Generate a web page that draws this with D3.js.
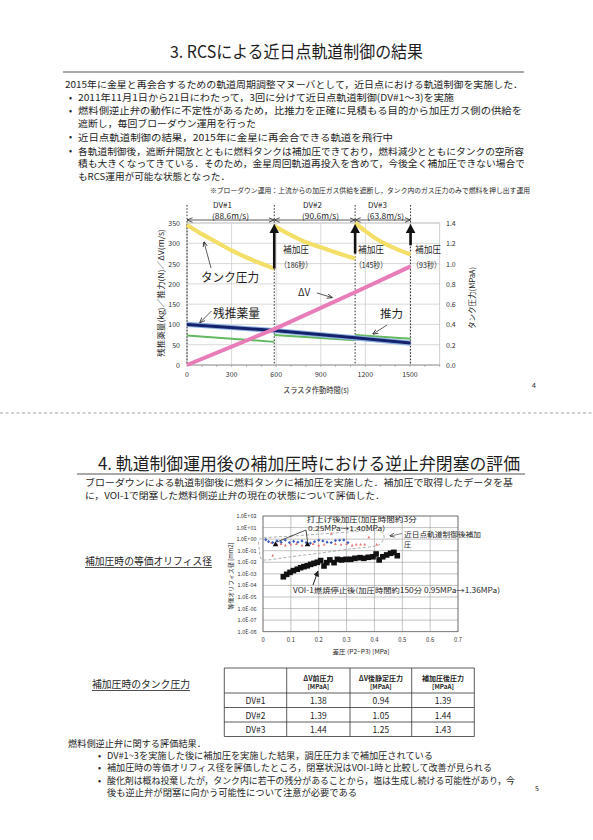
<!DOCTYPE html>
<html><head><meta charset="utf-8">
<script src="https://cdn.jsdelivr.net/npm/d3@7"></script>
<style>
body{margin:0;background:#fff}
svg{display:block}
text{font-family:"Noto Sans CJK JP","Noto Sans",sans-serif;fill:#1e1e1e}
</style>
</head><body><svg id="c" width="593" height="840"></svg>
<script>
// ---------------- DATA ----------------
// Section 3 text
const sec3Title = "3.  RCSによる近日点軌道制御の結果";
const sec3Lines = [
  "2015年に金星と再会合するための軌道周期調整マヌーバとして，近日点における軌道制御を実施した．",
  "2011年11月1日から21日にわたって，3回に分けて近日点軌道制御(DV#1〜3)を実施",
  "燃料側逆止弁の動作に不定性があるため，比推力を正確に見積もる目的から加圧ガス側の供給を",
  "遮断し，毎回ブローダウン運用を行った",
  "近日点軌道制御の結果，2015年に金星に再会合できる軌道を飛行中",
  "各軌道制御後，遮断弁開放とともに燃料タンクは補加圧できており，燃料減少とともにタンクの空所容",
  "積も大きくなってきている．そのため，金星周回軌道再投入を含めて，今後全く補加圧できない場合で",
  "もRCS運用が可能な状態となった．"
];
const sec3Note = "※ブローダウン運用：上流からの加圧ガス供給を遮断し，タンク内のガス圧力のみで燃料を押し出す運用";

// Chart 1 (thruster operation)
const dvNames = ["DV#1", "DV#2", "DV#3"];
const dvDeltaVLabels = ["(88.6m/s)", "(90.6m/s)", "(63.8m/s)"];
const burnBounds = [0, 587, 1131, 1504];           // s
const repressTimes = ["（186秒）", "（145秒）", "（93秒）"];
const tankPressure = [                              // MPaA
  [[0,1.38],[100,1.29],[200,1.21],[300,1.13],[400,1.06],[500,1.00],[587,0.95]],
  [[587,1.37],[700,1.28],[800,1.21],[900,1.16],[1000,1.11],[1131,1.05]],
  [[1131,1.40],[1200,1.32],[1300,1.22],[1400,1.15],[1504,1.09]]
];
const arrowFrom = [0.95, 1.10, 1.18];               // MPaA where repress arrows start
const deltaV = [[0,0],[587,88.6],[1131,179.2],[1504,243]];        // m/s
const propellant = [[0,100],[587,85],[1131,67],[1504,54]];        // kg
const thrust = [                                                   // N
  [[0,73],[587,57]],
  [[587,74],[1131,61]],
  [[1131,74],[1504,65]]
];
const xTicks1 = [0, 300, 600, 900, 1200, 1500];
const yTicksL = [0, 50, 100, 150, 200, 250, 300, 350];
const yTicksR = [0, 0.2, 0.4, 0.6, 0.8, 1.0, 1.2, 1.4];

// Section 4 text
const sec4Title = "4.  軌道制御運用後の補加圧時における逆止弁閉塞の評価";
const sec4Lines = [
  "ブローダウンによる軌道制御後に燃料タンクに補加圧を実施した．補加圧で取得したデータを基",
  "に，VOI-1で閉塞した燃料側逆止弁の現在の状態について評価した．"
];

// Chart 2 (equivalent orifice)
const voiDp = [0.073,0.085,0.097,0.109,0.123,0.135,0.147,0.159,0.171,0.183,0.195,0.207,0.219,0.229,0.240,0.255,0.267,0.282,0.298,0.315,0.330,0.348,0.362,0.378,0.395,0.406,0.417,0.430,0.444,0.458,0.470,0.482];
const voiArea = [5.6e-4,9.1e-4,1.35e-3,1.9e-3,2.5e-3,3.4e-3,4.2e-3,5.0e-3,6.6e-3,8.1e-3,1.0e-2,1.4e-2,4.8e-3,9.3e-3,1.6e-2,9.3e-3,1.8e-2,1.6e-2,1.8e-2,1.8e-2,2.2e-2,2.5e-2,2.2e-2,2.7e-2,3.0e-2,5.2e-2,1.6e-2,3.0e-2,4.3e-2,6.0e-2,7.2e-2,3.7e-2];
const blueDp = [0.01,0.02,0.035,0.05,0.065,0.08,0.095,0.11,0.125,0.14,0.155,0.17,0.185,0.20,0.215,0.23,0.245,0.26,0.275,0.29,0.305];
const blueArea = [0.9,0.6,0.5,0.7,0.55,0.8,0.5,0.65,0.55,0.7,0.5,0.45,0.6,0.8,0.7,0.55,0.5,0.75,0.8,0.85,0.5];
const redDp = [0.03,0.035,0.05,0.065,0.08,0.10,0.12,0.14,0.16,0.18,0.20,0.22,0.245,0.26,0.28,0.30,0.32,0.335,0.35,0.365,0.38,0.408];
const redArea = [0.5,0.04,0.35,0.4,0.3,0.35,0.4,0.3,0.35,0.4,0.3,0.35,3.0,0.4,0.35,0.4,0.3,0.35,0.35,0.35,1.5,0.35];
const launchDp = [0.045, 0.16];
const launchArea = [0.4, 0.4];
const envelope = [[-0.008,1.1],[0.1,1.8],[0.2,2.7],[0.3,4.0],[0.41,5.8],[0.435,1.6],[0.41,0.28],[0.3,0.13],[0.2,0.06],[0.1,0.03],[0.0,0.016],[-0.013,0.12]];
const logTickLabels = ["1.0E-08","1.0E-07","1.0E-06","1.0E-05","1.0E-04","1.0E-03","1.0E-02","1.0E-01","1.0E+00","1.0E+01","1.0E+02"];
const logTickValues = [1e-8,1e-7,1e-6,1e-5,1e-4,1e-3,1e-2,1e-1,1,10,100];
const xTicks2 = [0,0.1,0.2,0.3,0.4,0.5,0.6,0.7];

// Table
const tableHead1 = ["ΔV前圧力", "ΔV後静定圧力", "補加圧後圧力"];
const tableHead2 = ["[MPaA]", "[MPaA]", "[MPaA]"];
const tableRows = ["DV#1", "DV#2", "DV#3"];
const preDV = ["1.38", "1.39", "1.44"];
const postDV = ["0.94", "1.05", "1.25"];
const afterRep = ["1.39", "1.44", "1.43"];

const evalTitle = "燃料側逆止弁に関する評価結果．";
const evalLines = [
  "DV#1~3を実施した後に補加圧を実施した結果，調圧圧力まで補加圧されている",
  "補加圧時の等価オリフィス径を評価したところ，閉塞状況はVOI-1時と比較して改善が見られる",
  "酸化剤は概ね投棄したが，タンク内に若干の残分があることから，塩は生成し続ける可能性があり，今",
  "後も逆止弁が閉塞に向かう可能性について注意が必要である"
];

// ---------------- DRAW ----------------
const S = d3.select("#c");
S.append("rect").attr("width",593).attr("height",840).attr("fill","#fff");
const defs = S.append("defs");
defs.append("marker").attr("id","ah").attr("viewBox","0 0 10 10").attr("refX",9).attr("refY",5)
  .attr("markerWidth",7).attr("markerHeight",7).attr("orient","auto-start-reverse")
  .append("path").attr("d","M0,1 L10,5 L0,9").attr("fill","none").attr("stroke","#222").attr("stroke-width",1.4);
defs.append("marker").attr("id","ahf").attr("viewBox","0 0 10 10").attr("refX",9).attr("refY",5)
  .attr("markerWidth",6).attr("markerHeight",6).attr("orient","auto")
  .append("path").attr("d","M0,0 L10,5 L0,10 Z").attr("fill","#222");

function T(g, x, y, s, o = {}) {
  const t = g.append("text").attr("x", x).attr("y", y).text(s)
    .attr("font-size", o.size || 10).attr("dominant-baseline", "central")
    .attr("text-anchor", o.anchor || "start");
  if (o.len) t.attr("textLength", o.len).attr("lengthAdjust", "spacingAndGlyphs");
  if (o.weight) t.attr("font-weight", o.weight);
  if (o.fill) t.style("fill", o.fill);
  if (o.rotate) t.attr("transform", `rotate(${o.rotate},${x},${y})`);
  return t;
}
function L(g, x1, y1, x2, y2, st = "#222", w = 1, dash = null) {
  const l = g.append("line").attr("x1",x1).attr("y1",y1).attr("x2",x2).attr("y2",y2)
    .attr("stroke", st).attr("stroke-width", w);
  if (dash) l.attr("stroke-dasharray", dash);
  return l;
}

// ---- Section 3 text ----
const g3 = S.append("g");
T(g3, 170, 50, sec3Title, {size: 17, len: 253});
L(g3, 63, 72, 524, 72, "#555", 1);
const s3Layout = [
  {x:65, y:84, len:458, b:false},
  {x:78, y:97, len:376, b:true},
  {x:78, y:110.25, len:444, b:true},
  {x:78, y:122.75, len:178, b:false},
  {x:78, y:136.5, len:315, b:true},
  {x:78, y:150.5, len:446, b:true},
  {x:78, y:163, len:447, b:false},
  {x:78, y:175.5, len:152, b:false}
];
sec3Lines.forEach((s, i) => {
  const p = s3Layout[i];
  T(g3, p.x, p.y, s, {size: 9.6, len: p.len});
  if (p.b) T(g3, 69, p.y, "•", {size: 9});
});
T(g3, 210, 190, sec3Note, {size: 6.5, len: 320});

// ---- Chart 1 ----
const g1 = S.append("g");
const x1 = d3.scaleLinear().domain([0, 1700]).range([187, 439.7]);
const yL = d3.scaleLinear().domain([0, 350]).range([365, 223]);
const yR = d3.scaleLinear().domain([0, 1.4]).range([365, 223]);

// grid
yTicksL.forEach(v => L(g1, x1(0), yL(v), x1(1700), yL(v), "#cfcfcf", 0.8));
xTicks1.forEach(v => L(g1, x1(v), yL(0), x1(v), yL(350), "#cfcfcf", 0.8));
g1.append("rect").attr("x", x1(0)).attr("y", yL(350)).attr("width", x1(1700)-x1(0))
  .attr("height", yL(0)-yL(350)).attr("fill","none").attr("stroke","#c4c4c4").attr("stroke-width",0.8);
// x axis
L(g1, x1(0), yL(0), x1(1700), yL(0), "#999", 0.8);
d3.range(0, 1701, 100).forEach(v => L(g1, x1(v), yL(0), x1(v), yL(0)+2, "#999", 0.7));
xTicks1.forEach(v => T(g1, x1(v), 374, String(v), {size: 7, anchor: "middle", fill: "#333"}));
yTicksL.forEach(v => T(g1, 180, yL(v), String(v), {size: 7, anchor: "end", fill: "#333"}));
yTicksR.forEach(v => T(g1, 446, yR(v), v.toFixed(1), {size: 7, fill: "#333"}));
T(g1, 316, 389, "スラスタ作動時間(s)", {size: 7.5, anchor: "middle", len: 66});
T(g1, 160, 293, "残推薬量(kg)／推力(N)／ΔV(m/s)", {size: 7.5, anchor: "middle", len: 128, rotate: -90});
T(g1, 471, 298, "タンク圧力(MPaA)", {size: 7.5, anchor: "middle", len: 62, rotate: -90});

// burn boundary dotted lines
burnBounds.forEach(b => L(g1, x1(b), 205, x1(b), yL(0), "#333", 1, "1.6,1.6"));
// dimension arrows + labels
const dvLabelX = [213, 303, 368];
dvNames.forEach((n, i) => {
  const a = x1(burnBounds[i]) + 0.5, b = x1(burnBounds[i+1]) - 0.5;
  g1.append("line").attr("x1", a).attr("y1", 220).attr("x2", b).attr("y2", 220)
    .attr("stroke","#333").attr("stroke-width",0.8)
    .attr("marker-start","url(#ah)").attr("marker-end","url(#ah)");
  T(g1, dvLabelX[i], 204, n, {size: 8});
  T(g1, dvLabelX[i] - 1, 215.5, dvDeltaVLabels[i], {size: 8, len: 37});
});

// series lines
const lineR = d3.line().x(d => x1(d[0])).y(d => yR(d[1])).curve(d3.curveMonotoneX);
const lineL = d3.line().x(d => x1(d[0])).y(d => yL(d[1]));
tankPressure.forEach(seg => g1.append("path").attr("d", lineR(seg)).attr("fill","none")
  .attr("stroke","#f3de68").attr("stroke-width",4.2).attr("stroke-linecap","butt"));
thrust.forEach(seg => g1.append("path").attr("d", lineL(seg)).attr("fill","none")
  .attr("stroke","#63b860").attr("stroke-width",2));
g1.append("path").attr("d", lineL(propellant)).attr("fill","none").attr("stroke","#8eb1e2").attr("stroke-width",5.2);
g1.append("path").attr("d", lineL(propellant)).attr("fill","none").attr("stroke","#14226b").attr("stroke-width",3);
g1.append("path").attr("d", lineL(deltaV)).attr("fill","none").attr("stroke","#e77cb8").attr("stroke-width",4);

// repressurization arrows
const repLabelX = [283, 358, 415];
arrowFrom.forEach((p, i) => {
  const x = x1(burnBounds[i+1]);
  L(g1, x, yR(p), x, yR(1.39) + 7, "#111", 2.6);
  g1.append("path").attr("d", `M${x-4.8},${yR(1.39)+9} L${x},${yR(1.39)} L${x+4.8},${yR(1.39)+9} Z`).attr("fill","#111");
  T(g1, repLabelX[i], 249, "補加圧", {size: 9, len: 26});
  T(g1, repLabelX[i] - 3, 264, repressTimes[i], {size: 8, len: i === 2 ? 29 : 32});
});

// annotations
T(g1, 201, 276, "タンク圧力", {size: 12, len: 58});
g1.append("line").attr("x1",211).attr("y1",268).attr("x2",204).attr("y2",242)
  .attr("stroke","#333").attr("stroke-width",0.8).attr("marker-end","url(#ah)");
T(g1, 213, 312, "残推薬量", {size: 12, len: 47});
g1.append("line").attr("x1",211.5).attr("y1",311).attr("x2",200).attr("y2",322.5)
  .attr("stroke","#333").attr("stroke-width",0.8).attr("marker-end","url(#ah)");
T(g1, 298, 291, "ΔV", {size: 10});
g1.append("line").attr("x1",317).attr("y1",293).attr("x2",332).attr("y2",297.5)
  .attr("stroke","#333").attr("stroke-width",0.8).attr("marker-end","url(#ah)");
T(g1, 380, 313, "推力", {size: 11.5, len: 23});
g1.append("line").attr("x1",387).attr("y1",325).attr("x2",373).attr("y2",334)
  .attr("stroke","#333").attr("stroke-width",0.8).attr("marker-end","url(#ah)");
T(g1, 532, 385, "4", {size: 7});

// separator
L(S, 0, 413, 593, 413, "#8a8a8a", 0.8, "3,2.5");

// ---- Section 4 text ----
const g4 = S.append("g");
T(g4, 98, 462, sec4Title, {size: 17, len: 422});
L(g4, 77, 474, 525, 474, "#555", 1);
T(g4, 85, 482, sec4Lines[0], {size: 8.8, len: 428});
T(g4, 85, 495, sec4Lines[1], {size: 8.8, len: 300});
T(g4, 85, 560, "補加圧時の等価オリフィス径", {size: 10, len: 127});
L(g4, 85, 567.5, 212, 567.5, "#222", 0.8);
T(g4, 92, 683, "補加圧時のタンク圧力", {size: 10, len: 98});
L(g4, 92, 690.5, 190, 690.5, "#222", 0.8);

// ---- Chart 2 ----
const g2 = S.append("g");
const x2 = d3.scaleLinear().domain([0, 0.7]).range([263, 458]);
const y2 = d3.scaleLog().domain([1e-8, 1e2]).range([631.7, 516]);
logTickValues.forEach(v => L(g2, x2(0), y2(v), x2(0.7), y2(v), "#9a9a9a", 0.6));
xTicks2.forEach(v => L(g2, x2(v), y2(1e2), x2(v), y2(1e-8), "#9a9a9a", 0.6));
g2.append("rect").attr("x", x2(0)).attr("y", y2(1e2)).attr("width", x2(0.7)-x2(0))
  .attr("height", y2(1e-8)-y2(1e2)).attr("fill","none").attr("stroke","#666").attr("stroke-width",0.7);
logTickValues.forEach((v, i) => T(g2, 256.5, y2(v), logTickLabels[i], {size: 5.5, anchor: "end", fill: "#333"}));
xTicks2.forEach(v => T(g2, x2(v), 639, v === 0 ? "0" : String(v), {size: 5.8, anchor: "middle", fill: "#333"}));
T(g2, 361, 651, "差圧 (P2−P3) [MPa]", {size: 6, anchor: "middle", len: 57});
T(g2, 230.5, 576, "等価オリフィス径 [mm2]", {size: 6, anchor: "middle", len: 67, rotate: -90});

// envelope
g2.append("path").attr("d", d3.line().x(d => x2(d[0])).y(d => y2(d[1])).curve(d3.curveCardinalClosed.tension(0.3))(envelope))
  .attr("fill","none").attr("stroke","#9a9a9a").attr("stroke-width",0.8).attr("stroke-dasharray","3,2");

// markers
redDp.forEach((p, i) => {
  const x = x2(p), y = y2(redArea[i]);
  g2.append("path").attr("d", `M${x-1.4},${y+1.2} L${x},${y-1.4} L${x+1.4},${y+1.2} Z`).attr("fill","#e5716b");
});
blueDp.forEach((p, i) => {
  const x = x2(p), y = y2(blueArea[i]);
  g2.append("path").attr("d", `M${x},${y-1.6} L${x+1.6},${y} L${x},${y+1.6} L${x-1.6},${y} Z`).attr("fill","#3a5dbf");
});
launchDp.forEach((p, i) => {
  const x = x2(p), y = y2(launchArea[i]);
  g2.append("path").attr("d", `M${x-2.8},${y+2.4} L${x},${y-2.6} L${x+2.8},${y+2.4} Z`).attr("fill","#111");
});
voiDp.forEach((p, i) => {
  g2.append("rect").attr("x", x2(p) - 2.8).attr("y", y2(voiArea[i]) - 2.8)
    .attr("width", 5.6).attr("height", 5.6).attr("fill", "#111");
});

// chart 2 annotations
T(g2, 306.7, 518.5, "打上げ後加圧(加圧時間約3分", {size: 7, len: 110});
T(g2, 308, 528, "0.25MPa→1.40MPa)", {size: 7, len: 77});
L(g2, 306, 530, x2(launchDp[0]) + 2, y2(launchArea[0]) - 2, "#222", 0.8);
L(g2, 306, 530, x2(launchDp[1]), y2(launchArea[1]) - 2, "#222", 0.8);
T(g2, 404, 534, "近日点軌道制御後補加", {size: 7.2, len: 77});
T(g2, 404, 544, "圧", {size: 7.2});
g2.append("line").attr("x1",402).attr("y1",533.5).attr("x2",390).attr("y2",536)
  .attr("stroke","#555").attr("stroke-width",0.7).attr("marker-end","url(#ah)");
T(g2, 293, 590, "VOI-1燃焼停止後(加圧時間約150分  0.95MPa→1.36MPa)", {size: 7.2, len: 207});
g2.append("line").attr("x1",313).attr("y1",585).attr("x2",318).attr("y2",571)
  .attr("stroke","#222").attr("stroke-width",1).attr("marker-end","url(#ahf)");

// ---- Table ----
const gt = S.append("g");
const colX = [224.3, 286.7, 350, 411.7, 474.3];
const rowY = [668, 693, 707.5, 722, 736.5];
colX.forEach(x => L(gt, x, rowY[0], x, rowY[4], "#333", 0.8));
rowY.forEach(y => L(gt, colX[0], y, colX[4], y, "#333", 0.8));
tableHead1.forEach((h, i) => {
  const cx = (colX[i+1] + colX[i+2]) / 2;
  T(gt, cx, 677.5, h, {size: 7, anchor: "middle", weight: "bold"});
  T(gt, cx, 686.5, tableHead2[i], {size: 6.3, anchor: "middle", weight: "bold"});
});
tableRows.forEach((r, i) => {
  const cy = (rowY[i+1] + rowY[i+2]) / 2;
  T(gt, (colX[0]+colX[1])/2, cy, r, {size: 8.5, anchor: "middle"});
  T(gt, (colX[1]+colX[2])/2, cy, preDV[i], {size: 8.5, anchor: "middle"});
  T(gt, (colX[2]+colX[3])/2, cy, postDV[i], {size: 8.5, anchor: "middle"});
  T(gt, (colX[3]+colX[4])/2, cy, afterRep[i], {size: 8.5, anchor: "middle"});
});

// ---- Evaluation text ----
const ge = S.append("g");
T(ge, 68, 743, evalTitle, {size: 9.2, len: 138});
const evLayout = [{y:755, len:326},{y:767.5, len:385},{y:780, len:408},{y:792, len:250}];
evalLines.forEach((s, i) => {
  T(ge, 107, evLayout[i].y, s, {size: 9, len: evLayout[i].len});
  if (i < 3) T(ge, 98, evLayout[i].y, "•", {size: 9});
});
T(ge, 535, 788, "5", {size: 7});
</script></body></html>
